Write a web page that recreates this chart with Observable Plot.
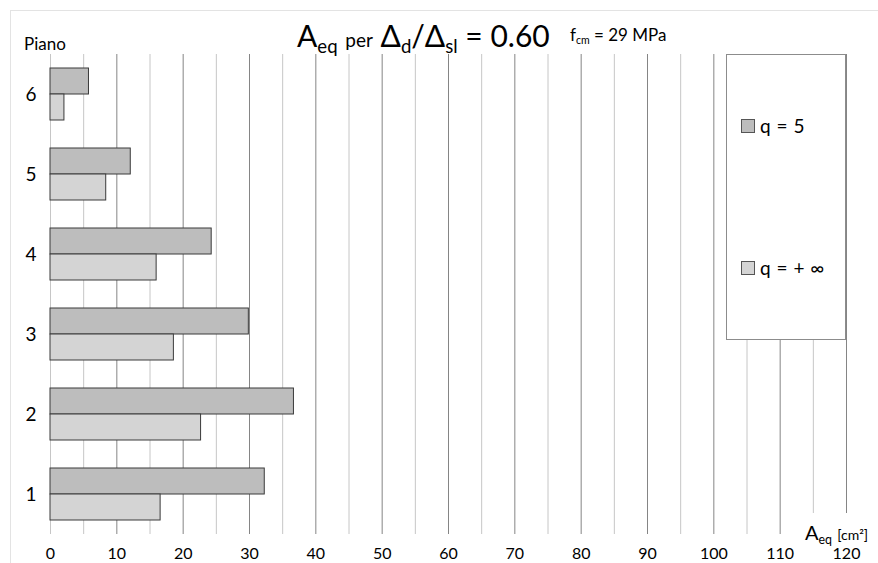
<!DOCTYPE html>
<html><head><meta charset="utf-8">
<script src="https://cdn.jsdelivr.net/npm/d3@7"></script>
<script src="https://cdn.jsdelivr.net/npm/@observablehq/plot@0.6"></script>
<style>
body{margin:0;background:#fff;font-family:Lato,"Noto Sans",sans-serif;}
#wrap{position:relative;width:878px;height:563px;overflow:hidden;}
.ov{position:absolute;white-space:nowrap;color:#000;line-height:1;}
sub{font-size:0.62em;vertical-align:-0.32em;line-height:0;}
</style></head><body><div id="wrap"></div>
<script>
const floors = [1, 2, 3, 4, 5, 6];
const series = ["q = 5", "q = + ∞"];
const q5   = [32.3, 36.7, 29.9, 24.3, 12.1, 5.8];
const qinf = [16.6, 22.7, 18.6, 16.0, 8.4, 2.1];
const xTicks = d3.range(0, 121, 10);
const minorTicks = d3.range(5, 121, 10);
const colors = ["#bdbdbd", "#d4d4d4"];

const data = floors.flatMap((f, i) => [
  {floor: f, series: series[0], value: q5[i]},
  {floor: f, series: series[1], value: qinf[i]}
]);

const plot = Plot.plot({
  width: 878, height: 563,
  marginLeft: 50, marginRight: 32, marginTop: 54, marginBottom: 29,
  style: {fontFamily: "Lato, 'Noto Sans', sans-serif", background: "transparent", color: "#000"},
  x: {domain: [0, 120], axis: null},
  fy: {domain: [6, 5, 4, 3, 2, 1], padding: 0, axis: null},
  y: {domain: series, paddingInner: 0, paddingOuter: 0.5, axis: null},
  color: {domain: series, range: colors},
  marks: [
    Plot.ruleX(minorTicks, {stroke: "#c6c6c6", strokeWidth: 1}),
    Plot.ruleX([0], {stroke: "#c6c6c6", strokeWidth: 1}),
    Plot.ruleX(xTicks.filter(d => d > 0), {stroke: "#858585", strokeWidth: 1}),
    Plot.barX(data, {x: "value", y: "series", fy: "floor", fill: "series", stroke: "#3a3a3a", strokeWidth: 1}),
    Plot.axisFy({anchor: "left", label: null, tickSize: 0, tickPadding: 14, fontSize: 19}),
    Plot.axisX(xTicks, {anchor: "bottom", label: null, tickSize: 0, tickPadding: 13, fontSize: 16})
  ]
});

const wrap = document.getElementById("wrap");
wrap.appendChild(plot);

function ov(html, style) {
  const d = document.createElement("div");
  d.className = "ov";
  d.innerHTML = html;
  Object.assign(d.style, style);
  wrap.appendChild(d);
  return d;
}
// outer border
ov("", {left: "10px", top: "10px", width: "900px", height: "600px", border: "1px solid #e3e3e3"});
ov("Piano", {left: "24px", top: "35px", fontSize: "17px"});
ov("A<sub>eq</sub> <span style='font-size:19px'>per</span> Δ<sub>d</sub>/Δ<sub>sl</sub> = 0.60", {left: "297px", top: "20px", fontSize: "30px"});
ov("f<sub>cm</sub> = 29 MPa", {left: "570px", top: "26px", fontSize: "17px"});
// legend
ov("", {left: "726px", top: "54px", width: "118px", height: "284px", border: "1px solid #8c8c8c", background: "#fff"});
series.forEach((s, i) => {
  const top = i === 0 ? 119 : 261;
  ov("", {left: "741px", top: top + "px", width: "12px", height: "12px", background: colors[i], border: "1px solid #555"});
  ov(s, {left: "760px", top: (top - 3) + "px", fontSize: "19px", wordSpacing: "1px"});
});
ov("A<sub>eq</sub> <span style='font-size:14px'>[cm²]</span>", {left: "805px", top: "513px", paddingTop: "9px", fontSize: "20px", background: "#fff", height: "24px", paddingRight: "6px"});
</script></body></html>
